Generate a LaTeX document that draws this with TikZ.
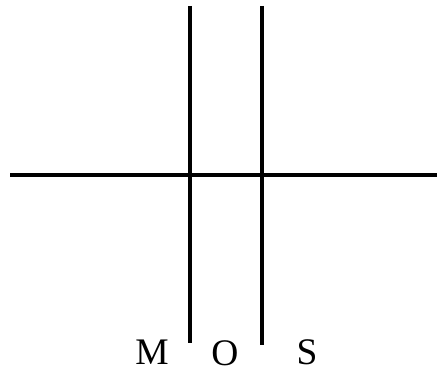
\documentclass[tikz,border=0pt]{standalone}
\usepackage{fontspec}
\setmainfont{Liberation Serif}
\usetikzlibrary{positioning}

\begin{document}
\begin{tikzpicture}[
  x=0.03cm, y=-0.03cm,
  wire/.style={line width=2.6pt},
  letter/.style={font=\fontsize{32}{36}\selectfont, inner sep=0pt, anchor=base}
]
\useasboundingbox (0,0) rectangle (437,373);
\coordinate (left) at (10,175);
\coordinate (right) at (437,175);
\coordinate (mtop) at (190,6);
\coordinate (mbot) at (190,343);
\coordinate (stop) at (262,6);
\coordinate (sbot) at (262,345);
\draw[wire] (left) -- (right);
\draw[wire] (mtop) -- (mbot);
\draw[wire] (stop) -- (sbot);
\node[letter] (m) at (152,365) {M};
\node[letter] (o) at (225,366) {O};
\node[letter] (s) at (307,365) {S};
\end{tikzpicture}
\end{document}
